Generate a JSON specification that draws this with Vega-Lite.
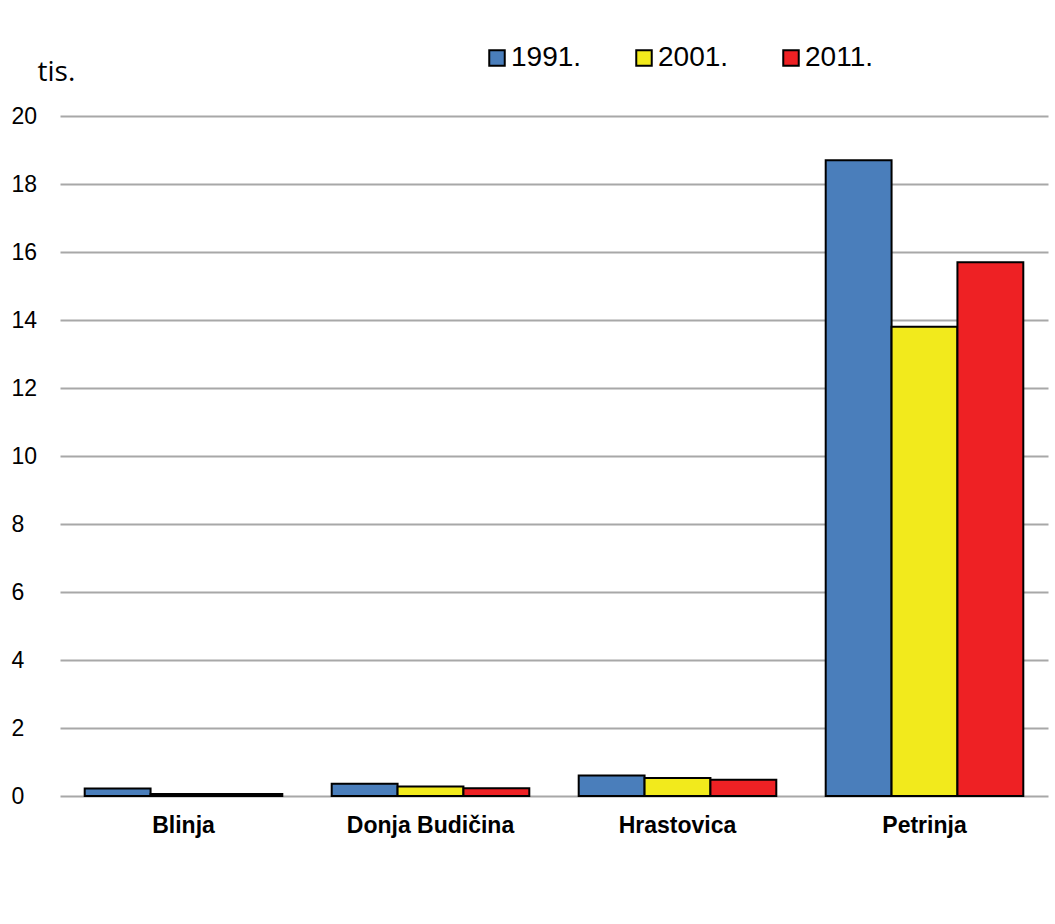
{
  "$schema": "https://vega.github.io/schema/vega-lite/v6.json",
  "width": 988,
  "height": 680,
  "autosize": "none",
  "padding": {"left": 60, "top": 116, "right": 7, "bottom": 128},
  "background": "white",
  "data": {"values": [
    {"naselje": "Blinja", "godina": "1991.", "tis": 0.22},
    {"naselje": "Blinja", "godina": "2001.", "tis": 0.06},
    {"naselje": "Blinja", "godina": "2011.", "tis": 0.06},
    {"naselje": "Donja Budičina", "godina": "1991.", "tis": 0.36},
    {"naselje": "Donja Budičina", "godina": "2001.", "tis": 0.28},
    {"naselje": "Donja Budičina", "godina": "2011.", "tis": 0.23},
    {"naselje": "Hrastovica", "godina": "1991.", "tis": 0.6},
    {"naselje": "Hrastovica", "godina": "2001.", "tis": 0.53},
    {"naselje": "Hrastovica", "godina": "2011.", "tis": 0.48},
    {"naselje": "Petrinja", "godina": "1991.", "tis": 18.7},
    {"naselje": "Petrinja", "godina": "2001.", "tis": 13.8},
    {"naselje": "Petrinja", "godina": "2011.", "tis": 15.7}
  ]},
  "mark": {"type": "bar", "stroke": "black", "strokeWidth": 2},
  "encoding": {
    "x": {
      "field": "naselje", "type": "nominal", "sort": null,
      "scale": {"paddingInner": 0.2, "paddingOuter": 0.1},
      "axis": {
        "title": null, "labelAngle": 0, "domain": false, "ticks": false,
        "labelFont": "Liberation Sans", "labelFontSize": 23, "labelFontWeight": "bold",
        "labelColor": "black", "labelPadding": 18
      }
    },
    "xOffset": {"field": "godina", "type": "nominal", "sort": ["1991.", "2001.", "2011."], "scale": {"paddingInner": 0, "paddingOuter": 0}},
    "y": {
      "field": "tis", "type": "quantitative",
      "scale": {"domain": [0, 20]},
      "axis": {
        "values": [0, 2, 4, 6, 8, 10, 12, 14, 16, 18, 20],
        "title": "tis.", "titleAngle": 0, "titleAlign": "left", "titleBaseline": "alphabetic",
        "titleX": -23, "titleY": -36, "titleFont": "Open Sans", "titleFontSize": 28,
        "titleFontWeight": "normal", "titleColor": "black",
        "domain": false, "ticks": false, "grid": true, "gridColor": "#a8a8a8", "gridWidth": 2,
        "labelAlign": "left", "labelPadding": 49, "labelFont": "Liberation Sans",
        "labelFontSize": 23, "labelColor": "black"
      }
    },
    "color": {
      "field": "godina", "type": "nominal",
      "scale": {"domain": ["1991.", "2001.", "2011."], "range": ["#4a7ebb", "#f2ea1c", "#ee2124"]},
      "legend": {
        "title": null, "orient": "none", "direction": "horizontal",
        "legendX": 423, "legendY": -72, "padding": 0,
        "symbolType": "square", "symbolSize": 240, "symbolStrokeColor": "black", "symbolStrokeWidth": 2,
        "labelFont": "Liberation Sans", "labelFontSize": 28, "labelColor": "black",
        "labelOffset": 0, "columnPadding": 48
      }
    }
  },
  "config": {"view": {"stroke": null}}
}
